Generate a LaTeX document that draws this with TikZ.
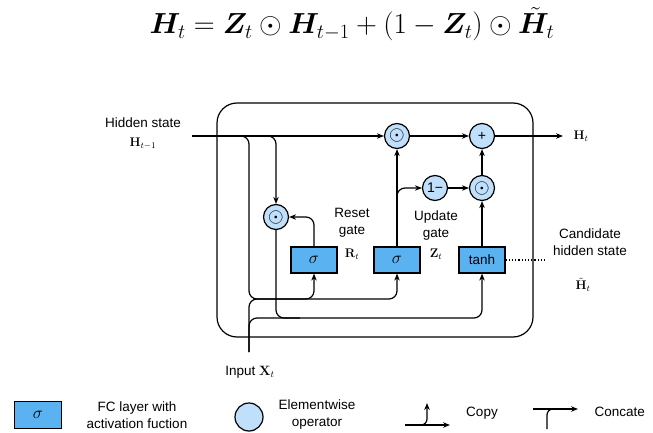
\RequirePackage{fix-cm}
\documentclass[tikz,border=0pt]{standalone}
\usepackage{amsmath,bm}
\usepackage[no-math]{fontspec}
\newfontfamily\arialfont{Liberation Sans}
\usepackage{tikz}
\usetikzlibrary{arrows.meta,positioning}
\definecolor{fcblue}{HTML}{5BB2F1}
\definecolor{opblue}{HTML}{BFDFFB}
\newcommand{\sig}{{\fontsize{17}{17}\selectfont$\sigma$}}
\tikzset{
  fc/.style={draw=black,fill=fcblue,line width=1.2pt,minimum width=46pt,minimum height=26pt,
             inner sep=0pt,font=\arialfont\fontsize{13.5}{15}\selectfont},
  op/.style={draw=black,fill=opblue,circle,line width=1.2pt,minimum size=25pt,inner sep=0pt,
             font=\fontsize{20}{20}\selectfont},
  flow/.style={line width=1.2pt,-{Stealth[length=7pt,width=5.5pt]}},
  wire/.style={line width=1.2pt},
  txt/.style={font=\arialfont\fontsize{13.5}{17}\selectfont,align=center},
  sym/.style={font=\fontsize{12.5}{14}\selectfont},
}

\begin{document}
\begin{tikzpicture}[x=1pt,y=-1pt]
  \useasboundingbox (0,0) rectangle (653,433);
  % update rule
  \node[font=\fontsize{29}{34}\selectfont,anchor=base] (eq) at (352,34)
      {$\bm{H}_t=\bm{Z}_t\odot\bm{H}_{t-1}+(1-\bm{Z}_t)\odot\tilde{\bm{H}}_t$};
  % cell frame
  \draw[wire,rounded corners=20pt] (217,103) rectangle (533,337);
  % operators and layers
  \node[op] (mulA) at (397,136) {$\odot$};
  \node[op,font=\arialfont\fontsize{14}{14}\selectfont] (plus) at (482,136) {+};
  \node[op,font=\arialfont\fontsize{14}{14}\selectfont] (omz) at (435,188) {1−};
  \node[op] (mulB) at (482,188) {$\odot$};
  \node[op] (mulR) at (276,217) {$\odot$};
  \node[fc] (sigR) at (314,260) {\sig};
  \node[fc] (sigZ) at (397,260) {\sig};
  \node[fc] (tanhb) at (482,260) {tanh};
  % labels
  \node[txt] (hlab) at (143,123) {Hidden state};
  \node[sym] (hprev) at (143,144) {$\mathbf{H}_{t-1}$};
  \node[sym] (hnext) at (581,136) {$\mathbf{H}_t$};
  \node[txt] (rlab) at (352,223) {Reset\\gate};
  \node[sym] (rt) at (352,254) {$\mathbf{R}_t$};
  \node[txt] (zlab) at (436,226) {Update\\gate};
  \node[sym] (zt) at (436,254) {$\mathbf{Z}_t$};
  \node[txt] (clab) at (590,242) {Candidate\\hidden state};
  \node[sym] (htil) at (583,285) {$\tilde{\mathbf{H}}_t$};
  \node[txt] (xlab) at (250,372) {Input $\mathbf{X}_t$};
  % junction points
  \coordinate (hs) at (192,136);
  \coordinate (hout) at (563,136);
  \coordinate (rsplit) at (262,136);
  \coordinate (gsplit) at (237,136);
  \coordinate (gl) at (249,299);
  \coordinate (gj) at (397,299);
  \coordinate (rsp) at (300,299);
  \coordinate (tj) at (482,318);
  \coordinate (xin) at (249,352);
  \coordinate (xr) at (300,318);
  \coordinate (zsplit) at (397,205);
  \coordinate (dend) at (547,260);
  % hidden state path
  \draw[flow] (hs) -- (mulA);
  \draw[flow] (mulA) -- (plus);
  \draw[flow] (plus) -- (hout);
  \draw[flow] (mulB) -- (plus);
  \draw[flow] (omz) -- (mulB);
  \draw[flow] (sigZ) -- (mulA);
  \draw[flow,rounded corners=8pt] (zsplit) |- (omz);
  \draw[flow] (tanhb) -- (mulB);
  \draw[flow,rounded corners=8pt] (sigR.north) |- (mulR);
  \draw[flow,rounded corners=8pt] (rsplit) -| (mulR);
  \draw[flow,rounded corners=8pt] (mulR) |- (tj) -- (tanhb);
  % gate inputs
  \draw[flow,rounded corners=8pt] (gsplit) -| (gl) -- (gj) -- (sigZ);
  \draw[flow,rounded corners=8pt] (rsp) -| (sigR);
  \draw[wire,rounded corners=8pt] (xin) |- (rsp);
  \draw[wire,rounded corners=8pt] (xin) |- (xr);
  \draw[wire,dotted] (tanhb) -- (dend);
  % legend
  \node[fc,minimum width=47pt,minimum height=27pt] (lfc) at (38,415) {\sig};
  \node[txt] (lfct) at (137,415) {FC layer with\\activation fuction};
  \node[op,minimum size=28pt] (lop) at (249,417) {};
  \node[txt] (lopt) at (317,415) {Elementwise\\operator};
  \coordinate (cpa) at (405,425);
  \coordinate (cpb) at (450,425);
  \coordinate (cpc) at (417,425);
  \coordinate (cpt) at (427,403);
  \draw[flow] (cpa) -- (cpb);
  \draw[flow,rounded corners=6pt] (cpc) -| (cpt);
  \node[txt] (lcp) at (482,413) {Copy};
  \coordinate (cca) at (533,409);
  \coordinate (ccb) at (578,409);
  \coordinate (ccs) at (547,429);
  \coordinate (ccm) at (560,409);
  \draw[flow] (cca) -- (ccb);
  \draw[wire,rounded corners=6pt] (ccs) |- (ccm);
  \node[txt,anchor=west] (lcc) at (591,412) {Concate};
\end{tikzpicture}
\end{document}
